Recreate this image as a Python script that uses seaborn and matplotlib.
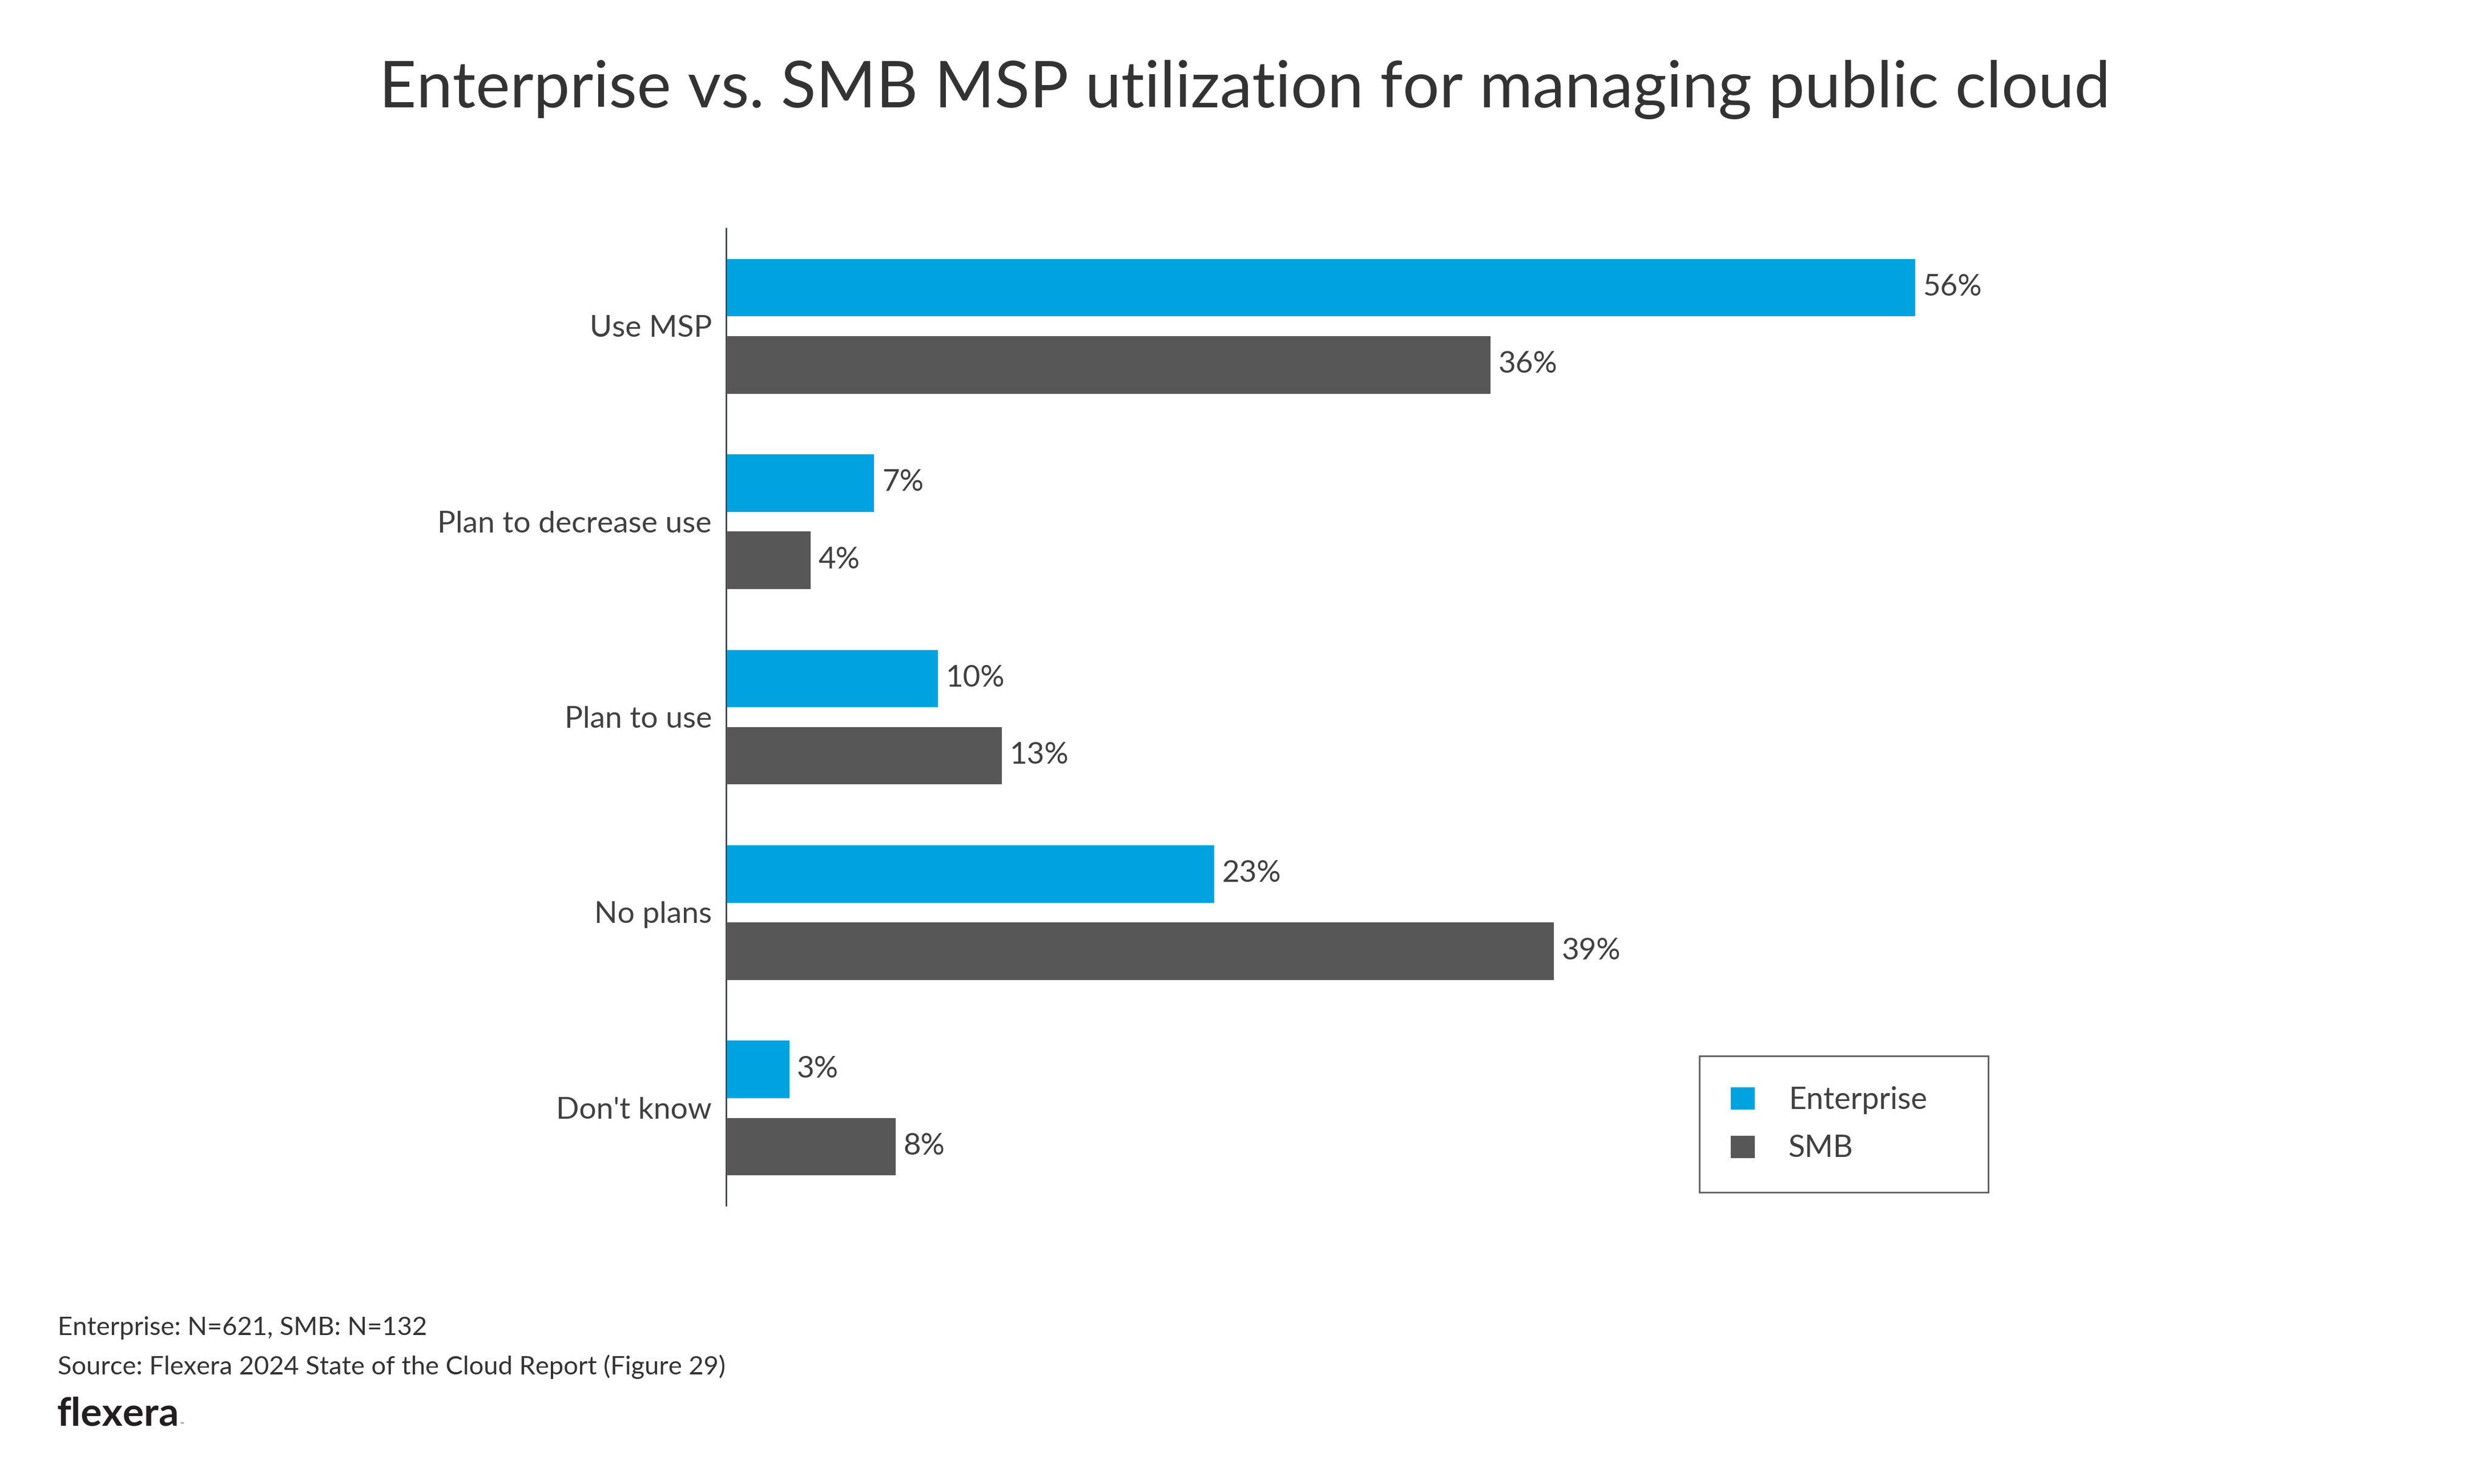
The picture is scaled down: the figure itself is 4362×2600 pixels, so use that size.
import numpy as np
import pandas as pd
import matplotlib.pyplot as plt
import seaborn as sns

categories = ["Use MSP", "Plan to decrease use", "Plan to use", "No plans", "Don't know"]
enterprise = [56, 7, 10, 23, 3]
smb = [36, 4, 13, 39, 8]
series = ["Enterprise", "SMB"]
colors = ["#00A3E0", "#575757"]

title = "Enterprise vs. SMB MSP utilization for managing public cloud"
note = "Enterprise: N=621, SMB: N=132"
source = "Source: Flexera 2024 State of the Cloud Report (Figure 29)"

df = pd.DataFrame({
    "category": categories * 2,
    "value": enterprise + smb,
    "series": [series[0]] * len(categories) + [series[1]] * len(categories),
})

sns.set_theme(style="white")
plt.rcParams["font.family"] = ["Lato", "DejaVu Sans"]
text_color = "#404040"

W, H = 4362, 2600
fig = plt.figure(figsize=(W / 200, H / 200), dpi=200)
ax = fig.add_axes([1272 / W, 1 - 2112 / H, 2244 / W, (2112 - 400) / H])

# two bars per group, ~30px apart
sns.barplot(data=df, x="value", y="category", hue="series", order=categories,
            hue_order=series, palette=colors, width=0.79, gap=0.235,
            saturation=1, orient="h", ax=ax)

for cont in ax.containers:
    vals = [b.get_width() for b in cont]
    ax.bar_label(cont, labels=[f"{v:.0f}%" for v in vals], padding=4.5,
                 fontsize=19, color=text_color)

ax.set_xlim(0, 60.3)
ax.set_xlabel("")
ax.set_ylabel("")
ax.set_xticks([])
ax.tick_params(axis="y", length=0, pad=9, labelsize=19.2, labelcolor=text_color)
for side in ["top", "right", "bottom"]:
    ax.spines[side].set_visible(False)
ax.spines["left"].set_color("#2d3340")
ax.spines["left"].set_linewidth(0.9)

handles, labels = ax.get_legend_handles_labels()
leg = ax.legend(handles, labels, loc="upper left",
                bbox_to_anchor=(2977 / W, 1 - 2095 / H, 506 / W, 245 / H),
                bbox_transform=fig.transFigure, mode="expand", borderaxespad=0,
                frameon=True, fancybox=False, edgecolor="#333333", fontsize=19.4,
                handlelength=0.83, handleheight=0.83, handletextpad=1.08,
                labelspacing=0.66, borderpad=0.98, labelcolor=text_color)
leg.get_frame().set_linewidth(1.0)

fig.text(0.5, 1 - 188 / H, title, ha="center", va="baseline", fontsize=40.8, color="#333333")
fig.text(101 / W, 1 - 2339 / H, note, va="baseline", fontsize=16.3, color="#333333")
fig.text(101 / W, 1 - 2408 / H, source, va="baseline", fontsize=16.3, color="#333333")
fig.text(100 / W, 1 - 2498 / H, "flexera", va="baseline", fontsize=25,
         fontweight="bold", color="#231f20")
fig.text(316 / W, 1 - 2498 / H, "™", va="baseline", fontsize=3, color="#231f20")

fig.savefig("out.png", dpi=200, facecolor="white")
